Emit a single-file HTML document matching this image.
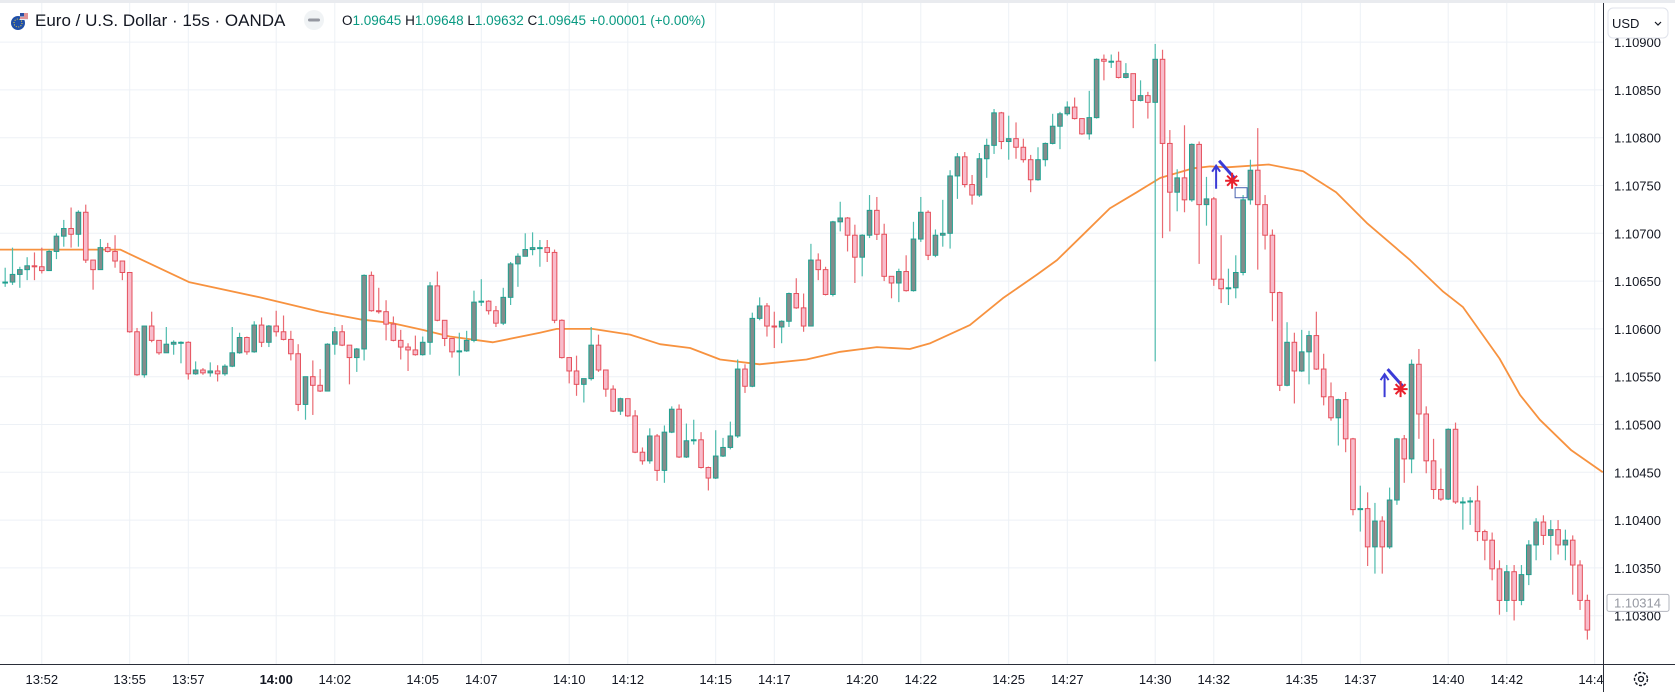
<!DOCTYPE html>
<html><head><meta charset="utf-8"><title>EURUSD 15s</title>
<style>
html,body{margin:0;padding:0;background:#fff;width:1675px;height:692px;overflow:hidden;font-family:"Liberation Sans",sans-serif}
svg{display:block}
</style></head>
<body>
<svg id="chart" width="1675" height="692" viewBox="0 0 1675 692" xmlns="http://www.w3.org/2000/svg">
  <rect x="0" y="0" width="1675" height="692" fill="#fff"/>
  <rect x="0" y="0" width="1675" height="3" fill="#e9ebef"/>
  <g id="grid"></g>
  <g id="ma"></g>
  <g id="candles"></g>
  <g id="markers"></g>
  <g id="yaxis"></g>
  <g id="xaxis"></g>
  <g id="header">
    <g>
      <circle cx="18" cy="23" r="7" fill="#1f4fa8"/>
      <circle cx="18" cy="23" r="4" fill="none" stroke="#f5d33a" stroke-width="1" stroke-dasharray="1 1.5"/>
      <path d="M20 13 h8 v7 h-8 z" fill="#e9edf4"/>
      <path d="M20 14 h8 M20 16 h8 M20 18 h8" stroke="#d83a3a" stroke-width="1"/>
      <rect x="20" y="13" width="4" height="3.5" fill="#2c4fa3"/>
    </g>
    <text x="35" y="26" font-size="17" fill="#131722">Euro / U.S. Dollar · 15s · OANDA</text>
    <circle cx="314" cy="20" r="10" fill="#f0f3f5"/>
    <rect x="308" y="18.5" width="12" height="3" rx="1.5" fill="#9598a1"/>
    <text x="342" y="25" font-size="13.5"><tspan fill="#131722">O</tspan><tspan fill="#089981">1.09645 </tspan><tspan fill="#131722">H</tspan><tspan fill="#089981">1.09648 </tspan><tspan fill="#131722">L</tspan><tspan fill="#089981">1.09632 </tspan><tspan fill="#131722">C</tspan><tspan fill="#089981">1.09645 +0.00001 (+0.00%)</tspan></text>
  </g>
</svg>
<script>
// ---- data ----
const firstIndex = -5;
const firstOpen = 1.10648;
const closes = [1.10649,1.10657,1.10662,1.10666,1.10665,
1.10661,1.10681,1.10697,1.10705,1.10699,1.10722,1.10672,1.10662,1.10685,1.10681,
1.10671,1.10659,1.10597,1.10552,1.10603,1.10588,1.10575,1.10584,1.10586,1.10586,
1.10553,1.10557,1.10554,1.10556,1.10553,1.10561,1.10575,1.10591,1.10576,1.10604,
1.10586,1.10603,1.10597,1.10589,1.10574,1.10521,1.10550,1.10541,1.10535,1.10584,
1.10597,1.10583,1.10570,1.10579,1.10656,1.10619,1.10618,1.10605,1.10588,1.10581,
1.10578,1.10573,1.10586,1.10645,1.10609,1.10590,1.10576,1.10577,1.10588,1.10628,
1.10629,1.10619,1.10606,1.10633,1.10668,1.10676,1.10683,1.10685,1.10685,1.10680,
1.10609,1.10570,1.10556,1.10542,1.10548,1.10583,1.10557,1.10537,1.10514,1.10527,
1.10509,1.10471,1.10462,1.10488,1.10452,1.10492,1.10516,1.10466,1.10483,1.10484,
1.10455,1.10444,1.10467,1.10476,1.10488,1.10558,1.10540,1.10611,1.10624,1.10603,
1.10602,1.10608,1.10637,1.10622,1.10603,1.10672,1.10662,1.10636,1.10712,1.10716,
1.10698,1.10675,1.10698,1.10724,1.10699,1.10655,1.10648,1.10660,1.10640,1.10694,
1.10722,1.10677,1.10698,1.10700,1.10760,1.10780,1.10751,1.10740,1.10778,1.10792,
1.10826,1.10796,1.10799,1.10790,1.10777,1.10756,1.10777,1.10794,1.10812,1.10825,
1.10832,1.10820,1.10804,1.10821,1.10882,1.10880,1.10880,1.10863,1.10867,1.10839,
1.10844,1.10837,1.10882,1.10794,1.10743,1.10758,1.10735,1.10793,1.10730,1.10736,
1.10652,1.10642,1.10643,1.10659,1.10735,1.10766,1.10730,1.10698,1.10638,1.10541,
1.10586,1.10556,1.10576,1.10593,1.10558,1.10529,1.10507,1.10526,1.10485,1.10411,
1.10412,1.10372,1.10399,1.10372,1.10421,1.10485,1.10464,1.10563,1.10511,1.10462,
1.10432,1.10422,1.10495,1.10419,1.10419,1.10420,1.10388,1.10379,1.10349,1.10316,
1.10346,1.10316,1.10343,1.10374,1.10398,1.10384,1.10390,1.10374,1.10379,1.10353,
1.10316,1.10285];
const highs = [1.10664,1.10685,1.10665,1.10675,1.10680,
1.10685,1.10683,1.10700,1.10714,1.10727,1.10724,1.10730,1.10667,1.10694,1.10690,
1.10698,1.10671,1.10659,1.10601,1.10603,1.10618,1.10588,1.10602,1.10588,1.10587,
1.10587,1.10566,1.10559,1.10565,1.10562,1.10563,1.10602,1.10596,1.10592,1.10608,
1.10612,1.10604,1.10619,1.10614,1.10598,1.10584,1.10550,1.10567,1.10558,1.10585,
1.10602,1.10604,1.10581,1.10580,1.10657,1.10660,1.10643,1.10630,1.10613,1.10599,
1.10585,1.10593,1.10592,1.10649,1.10660,1.10609,1.10590,1.10596,1.10598,1.10640,
1.10652,1.10630,1.10624,1.10643,1.10670,1.10679,1.10700,1.10701,1.10693,1.10693,
1.10683,1.10610,1.10570,1.10572,1.10548,1.10602,1.10594,1.10557,1.10541,1.10528,
1.10522,1.10515,1.10476,1.10496,1.10490,1.10499,1.10519,1.10521,1.10501,1.10505,
1.10492,1.10456,1.10494,1.10486,1.10503,1.10568,1.10563,1.10617,1.10633,1.10627,
1.10618,1.10609,1.10638,1.10653,1.10637,1.10689,1.10679,1.10665,1.10713,1.10733,
1.10717,1.10709,1.10699,1.10740,1.10738,1.10710,1.10655,1.10663,1.10677,1.10712,
1.10738,1.10724,1.10704,1.10735,1.10766,1.10784,1.10785,1.10761,1.10784,1.10799,
1.10830,1.10827,1.10823,1.10816,1.10799,1.10782,1.10790,1.10795,1.10825,1.10827,
1.10838,1.10842,1.10820,1.10849,1.10883,1.10887,1.10887,1.10890,1.10878,1.10867,
1.10860,1.10848,1.10898,1.10892,1.10808,1.10767,1.10813,1.10794,1.10796,1.10759,
1.10738,1.10698,1.10663,1.10677,1.10740,1.10777,1.10810,1.10740,1.10704,1.10639,
1.10607,1.10596,1.10599,1.10598,1.10618,1.10574,1.10544,1.10527,1.10534,1.10486,
1.10436,1.10429,1.10418,1.10404,1.10434,1.10486,1.10489,1.10568,1.10579,1.10519,
1.10485,1.10454,1.10496,1.10502,1.10424,1.10424,1.10436,1.10390,1.10387,1.10358,
1.10353,1.10353,1.10353,1.10379,1.10402,1.10405,1.10400,1.10400,1.10390,1.10384,
1.10358,1.10322];
const lows = [1.10644,1.10646,1.10643,1.10651,1.10651,
1.10658,1.10662,1.10673,1.10686,1.10685,1.10686,1.10669,1.10641,1.10662,1.10680,
1.10664,1.10651,1.10596,1.10551,1.10549,1.10586,1.10573,1.10575,1.10573,1.10564,
1.10547,1.10552,1.10552,1.10550,1.10545,1.10551,1.10560,1.10574,1.10573,1.10575,
1.10581,1.10581,1.10592,1.10588,1.10567,1.10514,1.10505,1.10510,1.10534,1.10537,
1.10573,1.10582,1.10542,1.10555,1.10567,1.10618,1.10616,1.10588,1.10587,1.10568,
1.10556,1.10572,1.10572,1.10573,1.10608,1.10582,1.10570,1.10551,1.10576,1.10586,
1.10624,1.10615,1.10602,1.10604,1.10625,1.10644,1.10676,1.10677,1.10665,1.10670,
1.10606,1.10569,1.10543,1.10530,1.10523,1.10546,1.10555,1.10529,1.10513,1.10510,
1.10508,1.10470,1.10458,1.10459,1.10441,1.10439,1.10491,1.10465,1.10465,1.10479,
1.10454,1.10431,1.10443,1.10466,1.10474,1.10486,1.10533,1.10539,1.10609,1.10592,
1.10580,1.10585,1.10602,1.10621,1.10597,1.10604,1.10651,1.10635,1.10634,1.10702,
1.10681,1.10648,1.10655,1.10695,1.10693,1.10650,1.10632,1.10628,1.10639,1.10639,
1.10691,1.10672,1.10675,1.10686,1.10684,1.10736,1.10748,1.10730,1.10738,1.10758,
1.10783,1.10788,1.10777,1.10778,1.10774,1.10743,1.10755,1.10770,1.10793,1.10788,
1.10823,1.10819,1.10803,1.10798,1.10820,1.10860,1.10873,1.10862,1.10862,1.10810,
1.10838,1.10820,1.10566,1.10695,1.10702,1.10723,1.10722,1.10733,1.10668,1.10708,
1.10645,1.10627,1.10625,1.10632,1.10656,1.10730,1.10662,1.10683,1.10608,1.10535,
1.10540,1.10522,1.10555,1.10542,1.10557,1.10520,1.10504,1.10478,1.10471,1.10405,
1.10388,1.10352,1.10344,1.10344,1.10370,1.10416,1.10439,1.10449,1.10485,1.10449,
1.10422,1.10420,1.10421,1.10417,1.10390,1.10395,1.10378,1.10358,1.10337,1.10301,
1.10304,1.10295,1.10311,1.10332,1.10358,1.10374,1.10358,1.10364,1.10358,1.10322,
1.10306,1.10275];
const maIndex = [-5.7,10.7,20.1,29.8,38,43.4,47.9,52,55.7,61.6,68,70.3,75.2,80.3,84.4,88.5,92.6,98,104.4,109,114,118.5,121.3,126.7,131.2,135.9,138.6,142.2,145.8,149.5,152.7,157.2,159.5,161.8,167.5,172.2,176.7,181,186.8,191.3,194,199,201.8,204.5,208.8,213.1];
const maValues = [1.10683,1.10683,1.10649,1.10633,1.10618,1.10610,1.10606,1.10599,1.10592,1.10586,1.10596,1.10600,1.10600,1.10594,1.10584,1.10580,1.10568,1.10563,1.10568,1.10576,1.10581,1.10579,1.10585,1.10604,1.10632,1.10657,1.10672,1.10699,1.10726,1.10743,1.10758,1.10768,1.10770,1.10769,1.10772,1.10765,1.10743,1.10710,1.10672,1.10639,1.10623,1.10569,1.10531,1.10505,1.10473,1.10450];
const priceTicks = [1.109,1.1085,1.108,1.1075,1.107,1.1065,1.106,1.1055,1.105,1.1045,1.104,1.1035,1.103];
const timeMinutes = [0,3,5,8,10,13,15,18,20,23,25,28,30,33,35,38,40,43,45,48,50,53];
const timeLabels = ["13:52","13:55","13:57","14:00","14:02","14:05","14:07","14:10","14:12","14:15","14:17","14:20","14:22","14:25","14:27","14:30","14:32","14:35","14:37","14:40","14:42","14:45"];
const boldLabels = ["14:00"];
const signalIndex = [162.5, 185.5];
const signalPrice = [1.10755, 1.10537];
const lastPrice = 1.10314;

// ---- scales ----
const PLOT_R = 1603;
function xOf(i){ return 41.8 + 7.325*i; }
function xOfMin(m){ return 41.8 + 29.3*m; }
function yOf(p){ return 42.1 + (1.109 - p)*95600; }

const NS = "http://www.w3.org/2000/svg";
function mk(tag, attrs, parent){
  const e = document.createElementNS(NS, tag);
  for (const k in attrs) e.setAttribute(k, attrs[k]);
  parent.appendChild(e);
  return e;
}
const grid = document.getElementById('grid');
const candles = document.getElementById('candles');
const maG = document.getElementById('ma');
const yaxis = document.getElementById('yaxis');
const xaxis = document.getElementById('xaxis');
const markers = document.getElementById('markers');

// grid
priceTicks.forEach(p => {
  const l = mk('line', {x1:0, x2:PLOT_R, y1:yOf(p), y2:yOf(p), stroke:'#edf1f6', 'stroke-width':1}, grid);
  
  
});
timeMinutes.forEach(m => {
  const x = xOfMin(m);
  if (x > PLOT_R) return;
  const l = mk('line', {x1:x, x2:x, y1:3, y2:664, stroke:'#edf1f6', 'stroke-width':1}, grid);
  
  
});

// candles
let prev = firstOpen;
closes.forEach((c, k) => {
  const i = firstIndex + k;
  const o = prev;
  const h = Math.max(highs[k], o, c);
  const lo = Math.min(lows[k], o, c);
  const bull = c >= o;
  const x = xOf(i);
  const g = mk('g', {}, candles);
  
  
  const w = mk('line', {x1:x, x2:x, y1:yOf(h), y2:yOf(lo), stroke: bull ? '#4fbcae' : '#ea6a72', 'stroke-width':1.2}, g);
  
  
  const top = yOf(Math.max(o,c)), bot = yOf(Math.min(o,c));
  const b = mk('rect', {x:x-2.3, y:top, width:4.6, height:Math.max(1, bot-top), fill: bull ? '#848c8c' : '#f8bccb', stroke: bull ? '#1fa08f' : '#e5505c', 'stroke-width':1}, g);
  
  
  prev = c;
});

// moving average
let d = '';
maIndex.forEach((i, k) => { d += (k ? 'L' : 'M') + xOf(i).toFixed(1) + ' ' + yOf(maValues[k]).toFixed(1) + ' '; });
const maPath = mk('path', {d:d, fill:'none', stroke:'#f7923f', 'stroke-width':1.8, 'stroke-linejoin':'round'}, maG);



// signal markers
signalIndex.forEach((i, k) => {
  const x = xOf(i), y = yOf(signalPrice[k]);
  const g = mk('g', {}, markers);
  
  
  mk('path', {d:`M${x-16} ${y+8} V${y-14} M${x-20} ${y-9} L${x-16} ${y-15} L${x-12} ${y-9}`, stroke:'#3b3bd6', 'stroke-width':2, fill:'none'}, g);
  mk('path', {d:`M${x-13} ${y-20} L${x+3} ${y-2}`, stroke:'#3b3bd6', 'stroke-width':3, fill:'none'}, g);
  mk('path', {d:`M${x} ${y-8} V${y+8} M${x-7} ${y} H${x+7} M${x-5} ${y-5} L${x+5} ${y+5} M${x-5} ${y+5} L${x+5} ${y-5}`, stroke:'#e8202c', 'stroke-width':2, fill:'none'}, g);
});
const sq = mk('rect', {x:xOf(signalIndex[0])+3, y:yOf(signalPrice[0])+7, width:12, height:10, fill:'none', stroke:'#4a62b0', 'stroke-width':1}, markers);



// price axis
const axBg = mk('rect', {x:PLOT_R, y:3, width:72, height:689, fill:'#fff'}, yaxis);


const axLine = mk('line', {x1:PLOT_R+0.5, x2:PLOT_R+0.5, y1:3, y2:692, stroke:'#2a2e39', 'stroke-width':1}, yaxis);


priceTicks.forEach(p => {
  const t = mk('text', {x:1614, y:yOf(p)+5, 'font-size':13, fill:'#131722'}, yaxis);
  t.textContent = p.toFixed(5);
  
  
});
const lp = mk('rect', {x:1607, y:yOf(lastPrice)-8, width:62, height:17, rx:2, fill:'#fff', stroke:'#b2b5be'}, yaxis);


const lpt = mk('text', {x:1614, y:yOf(lastPrice)+5, 'font-size':13, fill:'#9598a1'}, yaxis);
lpt.textContent = lastPrice.toFixed(5);


const usd = mk('rect', {x:1608, y:8, width:60, height:30, rx:5, fill:'#fff', stroke:'#e0e3eb'}, yaxis);


const usdT = mk('text', {x:1612, y:28, 'font-size':13, fill:'#131722'}, yaxis);
usdT.textContent = 'USD';


const chev = mk('path', {d:'M1655 22 l3 3 l3 -3', stroke:'#131722', fill:'none', 'stroke-width':1.2}, yaxis);



// time axis
const tl = mk('line', {x1:0, x2:1675, y1:664.5, y2:664.5, stroke:'#2a2e39', 'stroke-width':1}, xaxis);


const tbg = mk('rect', {x:0, y:665, width:1675, height:27, fill:'#fff'}, xaxis);


timeMinutes.forEach((m, k) => {
  const t = mk('text', {x:xOfMin(m), y:684, 'font-size':13, fill:'#131722', 'text-anchor':'middle', 'font-weight': boldLabels.includes(timeLabels[k]) ? 'bold' : 'normal'}, xaxis);
  t.textContent = timeLabels[k];
  
  
});
const cover = mk('rect', {x:PLOT_R+1, y:665, width:72, height:27, fill:'#fff'}, xaxis);


const vl = mk('line', {x1:PLOT_R+0.5, x2:PLOT_R+0.5, y1:664, y2:692, stroke:'#2a2e39', 'stroke-width':1}, xaxis);


const gear = mk('g', {}, xaxis);


mk('circle', {cx:1641, cy:679, r:6.5, fill:'none', stroke:'#131722', 'stroke-width':1.4, 'stroke-dasharray':'3 1.6'}, gear);
mk('circle', {cx:1641, cy:679, r:2.5, fill:'none', stroke:'#131722', 'stroke-width':1.3}, gear);
</script>
</body></html>
